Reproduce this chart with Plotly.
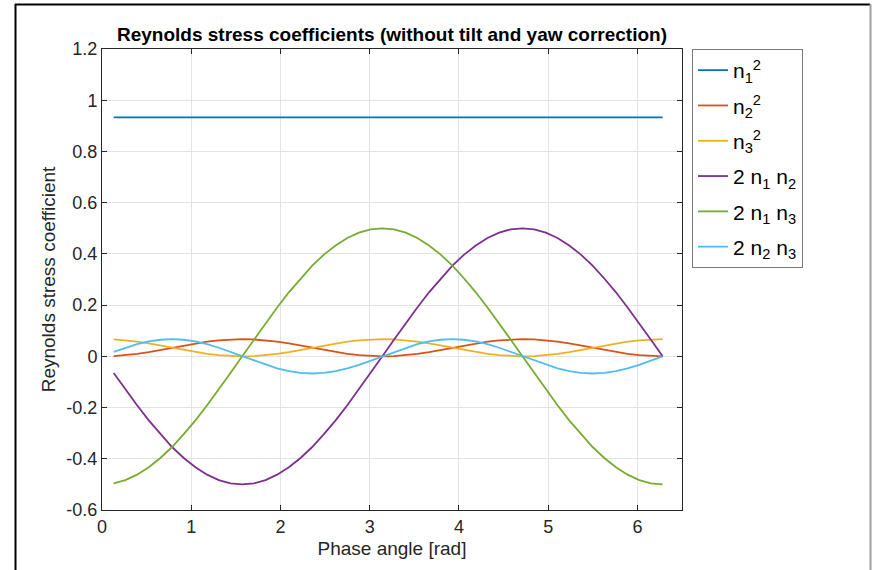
import plotly.graph_objects as go

# ---- data ----
phase = [0.131, 0.262, 0.393, 0.524, 0.654, 0.785, 0.916, 1.047, 1.178, 1.309, 1.440, 1.571,
         1.702, 1.833, 1.963, 2.094, 2.225, 2.356, 2.487, 2.618, 2.749, 2.880, 3.011, 3.142,
         3.272, 3.403, 3.534, 3.665, 3.796, 3.927, 4.058, 4.189, 4.320, 4.451, 4.581, 4.712,
         4.843, 4.974, 5.105, 5.236, 5.367, 5.498, 5.629, 5.760, 5.890, 6.021, 6.152, 6.283]

n1_sq = [0.933, 0.933, 0.933, 0.933, 0.933, 0.933, 0.933, 0.933, 0.933, 0.933, 0.933, 0.933,
         0.933, 0.933, 0.933, 0.933, 0.933, 0.933, 0.933, 0.933, 0.933, 0.933, 0.933, 0.933,
         0.933, 0.933, 0.933, 0.933, 0.933, 0.933, 0.933, 0.933, 0.933, 0.933, 0.933, 0.933,
         0.933, 0.933, 0.933, 0.933, 0.933, 0.933, 0.933, 0.933, 0.933, 0.933, 0.933, 0.933]

n2_sq = [0.0011, 0.0045, 0.0098, 0.0167, 0.0248, 0.0335, 0.0421, 0.0502, 0.0572, 0.0625, 0.0659, 0.0670,
         0.0659, 0.0625, 0.0572, 0.0502, 0.0421, 0.0335, 0.0248, 0.0167, 0.0098, 0.0045, 0.0011, 0.0000,
         0.0011, 0.0045, 0.0098, 0.0167, 0.0248, 0.0335, 0.0421, 0.0502, 0.0572, 0.0625, 0.0659, 0.0670,
         0.0659, 0.0625, 0.0572, 0.0502, 0.0421, 0.0335, 0.0248, 0.0167, 0.0098, 0.0045, 0.0011, 0.0000]

n3_sq = [0.0659, 0.0625, 0.0572, 0.0502, 0.0421, 0.0335, 0.0248, 0.0167, 0.0098, 0.0045, 0.0011, 0.0000,
         0.0011, 0.0045, 0.0098, 0.0167, 0.0248, 0.0335, 0.0421, 0.0502, 0.0572, 0.0625, 0.0659, 0.0670,
         0.0659, 0.0625, 0.0572, 0.0502, 0.0421, 0.0335, 0.0248, 0.0167, 0.0098, 0.0045, 0.0011, 0.0000,
         0.0011, 0.0045, 0.0098, 0.0167, 0.0248, 0.0335, 0.0421, 0.0502, 0.0572, 0.0625, 0.0659, 0.0670]

two_n1_n2 = [-0.065, -0.129, -0.191, -0.250, -0.304, -0.354, -0.397, -0.433, -0.462, -0.483, -0.496, -0.500,
             -0.496, -0.483, -0.462, -0.433, -0.397, -0.354, -0.304, -0.250, -0.191, -0.129, -0.065, 0.000,
             0.065, 0.129, 0.191, 0.250, 0.304, 0.354, 0.397, 0.433, 0.462, 0.483, 0.496, 0.500,
             0.496, 0.483, 0.462, 0.433, 0.397, 0.354, 0.304, 0.250, 0.191, 0.129, 0.065, 0.000]

two_n1_n3 = [-0.496, -0.483, -0.462, -0.433, -0.397, -0.354, -0.304, -0.250, -0.191, -0.129, -0.065, 0.000,
             0.065, 0.129, 0.191, 0.250, 0.304, 0.354, 0.397, 0.433, 0.462, 0.483, 0.496, 0.500,
             0.496, 0.483, 0.462, 0.433, 0.397, 0.354, 0.304, 0.250, 0.191, 0.129, 0.065, 0.000,
             -0.065, -0.129, -0.191, -0.250, -0.304, -0.354, -0.397, -0.433, -0.462, -0.483, -0.496, -0.500]

two_n2_n3 = [0.0173, 0.0335, 0.0474, 0.0580, 0.0647, 0.0670, 0.0647, 0.0580, 0.0474, 0.0335, 0.0173, 0.0000,
             -0.0173, -0.0335, -0.0474, -0.0580, -0.0647, -0.0670, -0.0647, -0.0580, -0.0474, -0.0335, -0.0173, 0.0000,
             0.0173, 0.0335, 0.0474, 0.0580, 0.0647, 0.0670, 0.0647, 0.0580, 0.0474, 0.0335, 0.0173, 0.0000,
             -0.0173, -0.0335, -0.0474, -0.0580, -0.0647, -0.0670, -0.0647, -0.0580, -0.0474, -0.0335, -0.0173, 0.0000]

series_names = ["n<sub>1</sub><sup>2</sup>", "n<sub>2</sub><sup>2</sup>", "n<sub>3</sub><sup>2</sup>",
                "2 n<sub>1</sub> n<sub>2</sub>", "2 n<sub>1</sub> n<sub>3</sub>", "2 n<sub>2</sub> n<sub>3</sub>"]
series_values = [n1_sq, n2_sq, n3_sq, two_n1_n2, two_n1_n3, two_n2_n3]
colors = ["#0072BD", "#D95319", "#EDB120", "#7E2F8E", "#77AC30", "#4DBEEE"]

x_ticks = [0, 1, 2, 3, 4, 5, 6]
y_ticks = [-0.6, -0.4, -0.2, 0, 0.2, 0.4, 0.6, 0.8, 1, 1.2]
y_tick_text = ["-0.6", "-0.4", "-0.2", "0", "0.2", "0.4", "0.6", "0.8", "1", "1.2"]

# ---- figure ----
W, H = 872, 570
L, R, T, B = 102, 190, 49, 60
FONT = "Liberation Sans, Arial, sans-serif"
TXT = "#262626"

fig = go.Figure()
for i, (name, vals, col) in enumerate(zip(series_names, series_values, colors)):
    fig.add_trace(go.Scatter(x=phase, y=vals, mode="lines", name=name,
                             legendgroup="g%d" % i,
                             line=dict(color=col, width=1.8)))

axis_common = dict(showline=True, linecolor=TXT, linewidth=1, mirror="ticks",
                   ticks="inside", ticklen=5, tickcolor=TXT, showgrid=True,
                   gridcolor="#e3e3e3", gridwidth=1, zeroline=False,
                   tickfont=dict(family=FONT, size=18, color=TXT))

fig.update_xaxes(range=[0, 6.5], tickvals=x_ticks,
                 title=dict(text="Phase angle [rad]", font=dict(family=FONT, size=19, color=TXT), standoff=6),
                 **axis_common)
fig.update_yaxes(range=[-0.6, 1.2], tickvals=y_ticks, ticktext=y_tick_text,
                 title=dict(text="Reynolds stress coefficient", font=dict(family=FONT, size=19, color=TXT), standoff=5),
                 **axis_common)

pw = W - L - R
ph = H - T - B

def px_x(p):
    return (p - L) / pw

def px_y(p):
    return 1 - (p - T) / ph

shapes = [
    dict(type="line", xref="paper", yref="paper", x0=px_x(15), x1=px_x(870), y0=px_y(4.5), y1=px_y(4.5),
         line=dict(color="black", width=2)),
    dict(type="line", xref="paper", yref="paper", x0=px_x(15.5), x1=px_x(15.5), y0=px_y(4), y1=px_y(572),
         line=dict(color="black", width=2)),
    dict(type="line", xref="paper", yref="paper", x0=px_x(870.5), x1=px_x(870.5), y0=px_y(4), y1=px_y(572),
         line=dict(color="#a0a0a0", width=2)),
]

fig.update_layout(
    width=W, height=H,
    margin=dict(l=L, r=R, t=T, b=B),
    paper_bgcolor="white", plot_bgcolor="white",
    font=dict(family=FONT, color=TXT),
    title=dict(text="<b>Reynolds stress coefficients (without tilt and yaw correction)</b>",
               x=(L + pw / 2) / W, xref="container", xanchor="center",
               y=1 - 34 / H, yref="container", yanchor="middle",
               font=dict(family=FONT, size=19, color="black")),
    legend=dict(x=px_x(692), y=1.0, xanchor="left", yanchor="top",
                bordercolor="#7a7a7a", borderwidth=1, bgcolor="white",
                font=dict(family=FONT, size=21, color="black"),
                itemwidth=30, tracegroupgap=5),
    showlegend=True,
    shapes=shapes,
)

fig.write_html("out.html")
